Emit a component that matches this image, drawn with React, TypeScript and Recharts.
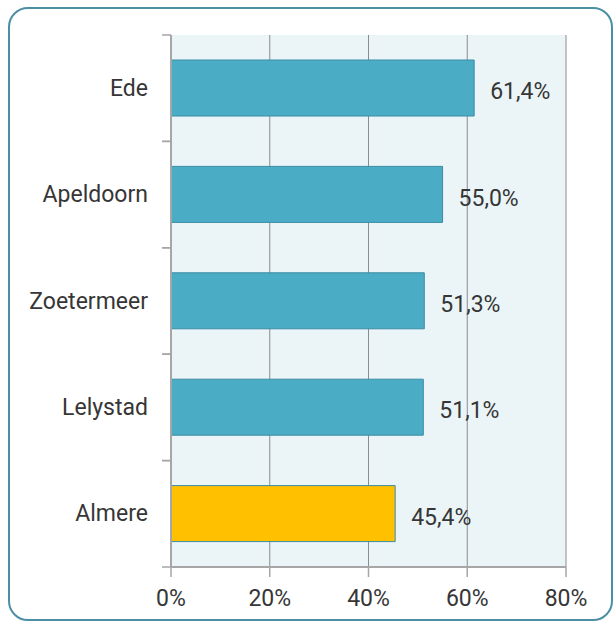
import { Bar, BarChart, CartesianGrid, Cell, LabelList, XAxis, YAxis } from "recharts";

const cities = ["Ede", "Apeldoorn", "Zoetermeer", "Lelystad", "Almere"];
const shares = [61.4, 55.0, 51.3, 51.1, 45.4];
const highlighted = ["Almere"];
const xTicks = [0, 20, 40, 60, 80];

const data = cities.map((city, i) => ({ city, share: shares[i] }));

const W = 613;
const H = 623;
const PLOT_LEFT = 171;
const PLOT_RIGHT = 566;
const PLOT_TOP = 35;
const PLOT_BOTTOM = 567;
const X_AXIS_H = 44;
const BAND = (PLOT_BOTTOM - PLOT_TOP) / cities.length;

const FONT = "Roboto, 'DejaVu Sans', sans-serif";
const TEXT = "#363636";
const AXIS = "#a6a6a6";

// category label plus the small ticks at the band edges, like the Excel original
const CityTick = (props: any) => {
    const { y, payload } = props;
    return (
        <g>
            <line x1={PLOT_LEFT - 9} x2={PLOT_LEFT} y1={y - BAND / 2} y2={y - BAND / 2} stroke={AXIS} strokeWidth={1.5} />
            <line x1={PLOT_LEFT - 9} x2={PLOT_LEFT} y1={y + BAND / 2} y2={y + BAND / 2} stroke={AXIS} strokeWidth={1.5} />
            <text x={PLOT_LEFT - 23} y={y} textAnchor="end" dominantBaseline="central" fontSize={23} fill={TEXT} fontFamily={FONT}>
                {payload.value}
            </text>
        </g>
    );
};

export default function App() {
    return (
        <div style={{ position: "absolute", left: 0, top: 0, width: W, height: H, background: "#fff" }}>
            <div
                style={{
                    position: "absolute",
                    left: 8,
                    top: 7,
                    width: 605,
                    height: 614,
                    border: "2.5px solid #4b8fa5",
                    borderRadius: 20,
                    boxSizing: "border-box",
                }}
            />
            <div style={{ position: "absolute", left: 0, top: 0 }}>
                <BarChart
                    width={W}
                    height={H}
                    data={data}
                    layout="vertical"
                    margin={{ top: PLOT_TOP, right: W - PLOT_RIGHT, bottom: H - PLOT_BOTTOM - X_AXIS_H, left: 0 }}
                    barSize={56}
                >
                    <CartesianGrid horizontal={false} stroke="#8c8c8c" fill="#ebf5f8" fillOpacity={1} />
                    <XAxis
                        type="number"
                        domain={[0, 80]}
                        ticks={xTicks}
                        height={X_AXIS_H}
                        tickFormatter={(v: number) => `${v}%`}
                        tickSize={10}
                        tickMargin={13}
                        axisLine={{ stroke: AXIS, strokeWidth: 2 }}
                        tickLine={{ stroke: AXIS, strokeWidth: 1.5 }}
                        tick={{ fontSize: 23, fill: TEXT, fontFamily: FONT }}
                        interval={0}
                    />
                    <YAxis
                        type="category"
                        dataKey="city"
                        width={PLOT_LEFT}
                        tickLine={false}
                        axisLine={{ stroke: AXIS, strokeWidth: 2 }}
                        tick={<CityTick />}
                        interval={0}
                    />
                    <Bar dataKey="share" isAnimationActive={false} stroke="#3a8ca4" strokeWidth={1}>
                        {data.map((d) => (
                            <Cell key={d.city} fill={highlighted.includes(d.city) ? "#ffc000" : "#4bacc6"} />
                        ))}
                        <LabelList
                            dataKey="share"
                            position="right"
                            offset={16}
                            dy={3}
                            formatter={(v: any) => `${Number(v).toFixed(1).replace(".", ",")}%`}
                            style={{ fontSize: 23, fill: TEXT, fontFamily: FONT }}
                        />
                    </Bar>
                </BarChart>
            </div>
        </div>
    );
}
